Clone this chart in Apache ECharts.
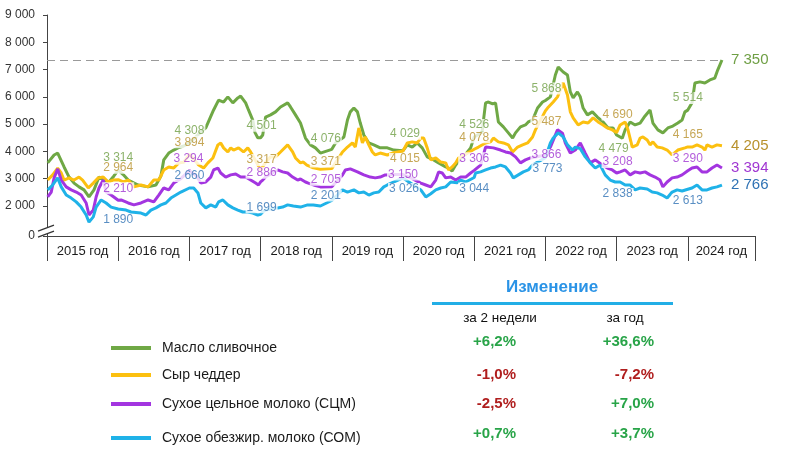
<!DOCTYPE html>
<html>
<head>
<meta charset="utf-8">
<style>
html,body{margin:0;padding:0;background:#fff;}
#chart{width:800px;height:450px;}
</style>
<script src="https://cdn.jsdelivr.net/npm/echarts@6/dist/echarts.min.js"></script>
</head>
<body>
<div id="chart"></div>
<script>
// ---------------- DATA ----------------
const seriesNames = ['Масло сливочное', 'Сыр чеддер', 'Сухое цельное молоко (СЦМ)', 'Сухое обезжир. молоко (СОМ)'];

const butter = [[2015.01,3580],[2015.10,3870],[2015.15,3940],[2015.24,3430],[2015.31,3060],[2015.38,2840],[2015.45,2700],[2015.52,2590],[2015.59,2330],[2015.66,2590],[2015.73,3060],[2015.80,2950],[2015.87,2880],[2015.94,3100],[2016.00,3314],[2016.07,3150],[2016.14,2950],[2016.28,2770],[2016.42,2700],[2016.53,2770],[2016.60,3100],[2016.64,3690],[2016.71,3940],[2016.78,4050],[2016.84,4130],[2016.92,4200],[2017.00,4308],[2017.16,4710],[2017.23,4860],[2017.34,5520],[2017.41,5880],[2017.48,5810],[2017.54,6000],[2017.61,5780],[2017.68,5960],[2017.72,6030],[2017.79,5780],[2017.83,5520],[2017.89,5150],[2017.92,4700],[2017.96,4500],[2018.00,4501],[2018.03,4600],[2018.07,5260],[2018.14,5340],[2018.21,5450],[2018.28,5630],[2018.38,5780],[2018.42,5630],[2018.49,5340],[2018.56,5040],[2018.63,4490],[2018.70,4240],[2018.77,4130],[2018.84,3940],[2019.00,4076],[2019.05,4300],[2019.17,4530],[2019.22,5150],[2019.26,5450],[2019.31,5590],[2019.36,5450],[2019.40,5040],[2019.45,4600],[2019.52,4310],[2019.59,4240],[2019.68,4130],[2019.78,4130],[2019.87,4050],[2020.00,4029],[2020.06,4240],[2020.13,4160],[2020.20,4310],[2020.27,4130],[2020.34,3800],[2020.43,3690],[2020.50,3580],[2020.60,3430],[2020.64,3390],[2020.69,3280],[2020.74,3500],[2020.81,3760],[2020.88,3900],[2020.95,4130],[2021.00,4526],[2021.11,4700],[2021.16,5780],[2021.20,5810],[2021.26,5740],[2021.30,5780],[2021.34,5080],[2021.41,4900],[2021.48,4680],[2021.54,4490],[2021.58,4680],[2021.65,4900],[2021.72,4970],[2021.76,5080],[2021.82,5150],[2021.89,5590],[2021.96,5810],[2022.00,5868],[2022.07,6000],[2022.14,6800],[2022.18,7090],[2022.25,6910],[2022.31,6800],[2022.35,6180],[2022.39,5960],[2022.45,6180],[2022.49,6000],[2022.53,5590],[2022.59,5340],[2022.66,5450],[2022.73,5260],[2022.81,5080],[2022.88,4860],[2022.95,4860],[2023.00,4600],[2023.08,4480],[2023.12,4790],[2023.19,5080],[2023.26,4970],[2023.33,5040],[2023.40,5300],[2023.47,5520],[2023.51,5040],[2023.58,4790],[2023.65,4680],[2023.72,4860],[2023.79,4930],[2023.86,5040],[2023.92,5150],[2023.96,5450],[2024.00,5514],[2024.06,5780],[2024.10,6510],[2024.17,6550],[2024.24,6510],[2024.31,6620],[2024.38,6690],[2024.42,6980],[2024.48,7350]];

const cheddar = [[2015.01,2950],[2015.08,3140],[2015.15,3390],[2015.20,3210],[2015.24,2950],[2015.31,3030],[2015.38,2950],[2015.45,3060],[2015.50,2950],[2015.58,2660],[2015.65,2840],[2015.72,3030],[2015.79,3060],[2015.86,2880],[2015.93,2950],[2016.00,2964],[2016.07,2880],[2016.14,2950],[2016.22,2700],[2016.32,2770],[2016.42,2700],[2016.50,2950],[2016.57,2950],[2016.64,3320],[2016.71,3430],[2016.78,3390],[2016.85,3580],[2016.92,3600],[2017.00,3894],[2017.13,3500],[2017.20,3390],[2017.26,3580],[2017.33,3760],[2017.40,4240],[2017.44,4310],[2017.48,4130],[2017.54,3980],[2017.58,4130],[2017.62,4050],[2017.69,4130],[2017.76,3980],[2017.82,4130],[2017.86,3980],[2017.90,3800],[2018.00,3317],[2018.07,3600],[2018.14,3800],[2018.21,3800],[2018.28,3980],[2018.38,4240],[2018.45,3980],[2018.49,3760],[2018.56,3580],[2018.60,3610],[2018.65,3500],[2018.74,3400],[2018.84,3350],[2019.00,3371],[2019.15,3980],[2019.22,4160],[2019.29,4310],[2019.33,4160],[2019.38,4860],[2019.43,4310],[2019.47,4530],[2019.52,4240],[2019.57,3980],[2019.61,3870],[2019.68,3940],[2019.78,3870],[2019.87,3950],[2020.00,4015],[2020.06,4310],[2020.13,4350],[2020.20,4310],[2020.25,4490],[2020.29,4490],[2020.34,4130],[2020.39,3690],[2020.46,3760],[2020.53,3610],[2020.60,3580],[2020.64,3320],[2020.69,3430],[2020.74,3580],[2020.78,3760],[2020.88,3900],[2021.00,4078],[2021.06,4160],[2021.16,4310],[2021.23,4350],[2021.27,4490],[2021.34,4350],[2021.41,4310],[2021.48,4240],[2021.54,3980],[2021.61,4160],[2021.68,4240],[2021.75,4310],[2021.82,4530],[2021.86,4790],[2022.00,5487],[2022.03,5590],[2022.11,5810],[2022.17,6000],[2022.25,6510],[2022.31,6070],[2022.35,5450],[2022.39,5230],[2022.46,4970],[2022.53,5080],[2022.60,5040],[2022.67,5230],[2022.74,5080],[2022.81,4970],[2022.87,4860],[2022.94,4790],[2023.00,4690],[2023.05,4970],[2023.12,5080],[2023.16,4790],[2023.22,4160],[2023.29,4240],[2023.33,4490],[2023.37,4530],[2023.43,4420],[2023.47,4240],[2023.51,4350],[2023.57,4160],[2023.64,4130],[2023.71,4050],[2023.78,3870],[2023.86,4050],[2023.96,4130],[2024.00,4165],[2024.06,4160],[2024.13,4240],[2024.20,4160],[2024.24,4050],[2024.27,4240],[2024.34,4160],[2024.41,4240],[2024.48,4205]];

const wmp = [[2015.01,2330],[2015.06,2510],[2015.10,3030],[2015.15,3360],[2015.20,2950],[2015.27,2700],[2015.34,2590],[2015.41,2510],[2015.48,2400],[2015.55,2110],[2015.59,1670],[2015.65,1850],[2015.69,2330],[2015.73,2660],[2015.79,2950],[2015.83,2510],[2015.90,2400],[2016.00,2210],[2016.04,2220],[2016.14,2110],[2016.22,2040],[2016.32,2110],[2016.42,2220],[2016.50,2150],[2016.57,2400],[2016.64,2660],[2016.71,2590],[2016.78,2840],[2016.88,3000],[2017.00,3294],[2017.10,3100],[2017.16,2840],[2017.23,2880],[2017.30,3060],[2017.34,3320],[2017.40,3390],[2017.44,3210],[2017.51,3060],[2017.58,3140],[2017.65,3170],[2017.72,3060],[2017.79,3060],[2017.86,2950],[2017.93,2840],[2017.97,2770],[2018.00,2886],[2018.03,2950],[2018.07,3060],[2018.24,3320],[2018.31,3250],[2018.38,3210],[2018.45,3060],[2018.52,2950],[2018.56,2990],[2018.63,2880],[2018.67,2840],[2018.77,2750],[2018.84,2700],[2019.00,2705],[2019.15,3140],[2019.19,3320],[2019.26,3360],[2019.36,3250],[2019.45,3140],[2019.54,3060],[2019.61,3030],[2019.68,3060],[2019.75,3140],[2019.87,3150],[2020.00,3150],[2020.13,3000],[2020.25,2840],[2020.32,2770],[2020.39,2700],[2020.46,2950],[2020.50,3250],[2020.55,3210],[2020.60,3030],[2020.67,3060],[2020.74,2950],[2020.81,3060],[2020.88,3060],[2020.95,3210],[2021.00,3306],[2021.09,3500],[2021.16,4160],[2021.27,4130],[2021.37,4050],[2021.44,3980],[2021.51,3940],[2021.58,3800],[2021.65,3580],[2021.72,3690],[2021.79,3760],[2022.00,3866],[2022.07,4160],[2022.17,4790],[2022.24,4670],[2022.28,4310],[2022.35,3940],[2022.42,4050],[2022.49,4310],[2022.56,3940],[2022.63,3580],[2022.70,3690],[2022.80,3500],[2022.87,3390],[2022.94,3320],[2023.00,3208],[2023.05,3250],[2023.12,3320],[2023.19,3140],[2023.26,3250],[2023.33,3210],[2023.40,3250],[2023.47,3140],[2023.54,3060],[2023.61,2950],[2023.65,2700],[2023.71,2880],[2023.78,3030],[2023.85,3060],[2023.92,3140],[2024.00,3290],[2024.06,3390],[2024.13,3430],[2024.20,3250],[2024.27,3250],[2024.34,3390],[2024.41,3500],[2024.48,3394]];

const smp = [[2015.01,2590],[2015.08,2770],[2015.15,3030],[2015.20,2700],[2015.27,2400],[2015.34,2290],[2015.41,2150],[2015.48,1960],[2015.55,1670],[2015.59,1410],[2015.65,1600],[2015.69,1960],[2015.76,2220],[2015.83,2110],[2015.90,1960],[2016.00,1890],[2016.11,1850],[2016.18,1780],[2016.32,1740],[2016.39,1670],[2016.46,1850],[2016.53,1930],[2016.60,2040],[2016.67,2110],[2016.74,2290],[2016.81,2400],[2016.88,2510],[2017.00,2660],[2017.06,2660],[2017.12,2480],[2017.16,2110],[2017.23,1930],[2017.30,2040],[2017.37,1960],[2017.41,2150],[2017.47,2220],[2017.54,2040],[2017.61,1930],[2017.68,1850],[2017.75,1780],[2017.82,1780],[2017.89,1740],[2017.96,1670],[2018.00,1699],[2018.03,1780],[2018.07,1850],[2018.24,1930],[2018.31,1960],[2018.38,2040],[2018.46,2000],[2018.56,1960],[2018.66,2040],[2018.74,2040],[2018.84,2000],[2019.00,2201],[2019.15,2590],[2019.22,2510],[2019.31,2590],[2019.38,2480],[2019.45,2510],[2019.52,2400],[2019.59,2480],[2019.66,2510],[2019.73,2700],[2019.78,2770],[2020.00,3026],[2020.25,2590],[2020.32,2330],[2020.39,2450],[2020.46,2590],[2020.53,2660],[2020.60,2700],[2020.67,2880],[2020.76,2850],[2020.81,2950],[2020.88,2880],[2021.00,3044],[2021.02,3210],[2021.09,3250],[2021.16,3320],[2021.23,3390],[2021.30,3430],[2021.37,3500],[2021.44,3430],[2021.51,3210],[2021.55,3030],[2021.62,3140],[2021.69,3250],[2021.76,3320],[2021.82,3500],[2022.00,3773],[2022.07,4310],[2022.11,4490],[2022.18,4680],[2022.25,4530],[2022.31,4240],[2022.38,4050],[2022.42,4160],[2022.49,4100],[2022.56,3800],[2022.63,3580],[2022.70,3390],[2022.77,3500],[2022.84,3140],[2022.91,2950],[2022.98,2880],[2023.00,2838],[2023.05,2880],[2023.12,2770],[2023.19,2770],[2023.26,2590],[2023.33,2660],[2023.43,2620],[2023.50,2510],[2023.57,2480],[2023.64,2400],[2023.71,2290],[2023.78,2510],[2023.85,2590],[2023.92,2550],[2024.00,2613],[2024.06,2660],[2024.13,2770],[2024.20,2590],[2024.27,2590],[2024.34,2660],[2024.41,2700],[2024.48,2766]];

// annotated values at the start of each year
const labelYears = [2016, 2017, 2018, 2019, 2020, 2021, 2022, 2023, 2024];
const butterLabels  = [3314, 4308, 4501, 4076, 4029, 4526, 5868, 4479, 5514];
const cheddarLabels = [2964, 3894, 3317, 3371, 4015, 4078, 5487, 4690, 4165];
const wmpLabels     = [2210, 3294, 2886, 2705, 3150, 3306, 3866, 3208, 3290];
const smpLabels     = [1890, 2660, 1699, 2201, 3026, 3044, 3773, 2838, 2613];

const refLevel = 7350;

// y-axis ticks and x-axis years
const yTickValues = [900, 2000, 3000, 4000, 5000, 6000, 7000, 8000, 9000];
const yearTicks = [2015, 2016, 2017, 2018, 2019, 2020, 2021, 2022, 2023, 2024];

// change table
const changeHeader = 'Изменение';
const changeCols = ['за 2 недели', 'за год'];
const change2w = ['+6,2%', '-1,0%', '-2,5%', '+0,7%'];
const changeYear = ['+36,6%', '-7,2%', '+7,0%', '+3,7%'];

// ---------------- STYLE ----------------
const FONT = '"Liberation Sans", Arial, sans-serif';
const lineColors = ['#6fa845', '#fcc010', '#a335e0', '#1fb2e8'];
const labelColors = ['#6f9f45', '#b8912c', '#a036d2', '#2f72b4'];
const labelOffsets = [
  [[0,-12],[0,-12],[1,-12],[-6,-11],[2,-17],[0,-12],[1,-12],[-3,10],[0,-12]],
  [[0,-12],[0,-12],[1,-10],[-6,-7],[2,8],[0,-12],[1,11],[1,-18],[0,-12]],
  [[0,-12],[-1,-12],[1,-9],[-6,-7],[0,0],[0,-12],[1,0],[1,-11],[0,-12]],
  [[0,11],[0,-12],[1,-7],[-6,-5],[1,11],[0,11],[2,11],[1,11],[0,11]]
];
const xMax = 2024.944;

function fmt(v) { return String(v).replace(/\B(?=(\d{3})+(?!\d))/g, ' '); }

const lineData = [butter, cheddar, wmp, smp];
const labelData = [butterLabels, cheddarLabels, wmpLabels, smpLabels];

const chart = echarts.init(document.getElementById('chart'), null, {renderer: 'canvas'});

const series = [];
lineData.forEach((d, i) => {
  const s = {
    name: seriesNames[i],
    type: 'line',
    data: d,
    showSymbol: false,
    symbol: 'none',
    z: 2,
    lineStyle: {color: lineColors[i], width: 3},
    itemStyle: {color: lineColors[i]},
    endLabel: {
      show: true,
      formatter: p => fmt(p.value[1]),
      color: labelColors[i],
      fontSize: 15,
      fontFamily: FONT,
      distance: 9
    },
    emphasis: {disabled: true}
  };
  if (i === 0) {
    s.markLine = {
      silent: true,
      symbol: 'none',
      label: {show: false},
      lineStyle: {color: '#9a9a9a', type: [8, 5], width: 1},
      data: [[{coord: [2015, refLevel]}, {coord: [butter[butter.length - 1][0], refLevel]}]]
    };
  }
  series.push(s);
});
// year-start annotations (white boxes cut the lines as in the original)
labelData.forEach((vals, i) => {
  series.push({
    type: 'scatter',
    z: 10,
    symbol: 'circle',
    symbolSize: 1,
    itemStyle: {color: 'rgba(0,0,0,0)'},
    silent: true,
    emphasis: {disabled: true},
    data: vals.map((v, k) => [labelYears[k], v]),
    labelLayout: p => ({
      dx: labelOffsets[i][p.dataIndex][0],
      dy: labelOffsets[i][p.dataIndex][1],
      hideOverlap: false
    }),
    label: {
      show: true,
      position: 'inside',
      formatter: p => fmt(p.value[1]),
      color: labelColors[i],
      fontSize: 12,
      fontFamily: FONT,
      backgroundColor: '#fff',
      padding: [0, 1, 0, 1]
    }
  });
});

const legendTops = [333, 360, 389, 423];
const legends = seriesNames.map((n, i) => ({
  data: [n],
  left: 106,
  top: legendTops[i],
  icon: 'rect',
  itemWidth: 40,
  itemHeight: 4,
  selectedMode: false,
  textStyle: {fontSize: 14, fontFamily: FONT, color: '#1a1a1a', padding: [0, 0, 2, 6], lineHeight: 18}
}));

const rowY = [342, 375, 404, 434];
const graphics = [
  {type: 'text', x: 552, y: 287, style: {text: changeHeader, font: 'bold 17px ' + FONT, fill: '#2a93e6', textAlign: 'center', textVerticalAlign: 'middle'}},
  {type: 'rect', shape: {x: 432, y: 302, width: 241, height: 3}, style: {fill: '#22aee6'}},
  {type: 'text', x: 500, y: 318, style: {text: changeCols[0], font: '13.5px ' + FONT, fill: '#111', textAlign: 'center', textVerticalAlign: 'middle'}},
  {type: 'text', x: 625, y: 318, style: {text: changeCols[1], font: '13.5px ' + FONT, fill: '#111', textAlign: 'center', textVerticalAlign: 'middle'}}
];
change2w.forEach((t, i) => {
  graphics.push({type: 'text', x: 516, y: rowY[i], style: {text: t, font: 'bold 15px ' + FONT, fill: t[0] === '-' ? '#b01e1e' : '#28a448', textAlign: 'right', textVerticalAlign: 'middle'}});
});
changeYear.forEach((t, i) => {
  graphics.push({type: 'text', x: 654, y: rowY[i], style: {text: t, font: 'bold 15px ' + FONT, fill: t[0] === '-' ? '#b01e1e' : '#28a448', textAlign: 'right', textVerticalAlign: 'middle'}});
});

chart.setOption({
  animation: false,
  backgroundColor: '#fff',
  grid: {left: 47, right: 45, top: 15, bottom: 214, containLabel: false},
  xAxis: {
    type: 'value',
    min: 2015,
    max: xMax,
    axisLine: {show: true, lineStyle: {color: '#444', width: 1}},
    axisTick: {show: true, length: 25, lineStyle: {color: '#444'}, customValues: yearTicks.concat([xMax])},
    axisLabel: {
      customValues: yearTicks.map(y => y === 2024 ? (2024 + xMax) / 2 - 0.0001 : y + 0.5),
      formatter: v => Math.floor(v) + ' год',
      fontSize: 13, fontFamily: FONT, color: '#1a1a1a', margin: 9
    },
    splitLine: {show: false}
  },
  yAxis: {
    type: 'value',
    min: 900,
    max: 9000,
    axisLine: {show: true, lineStyle: {color: '#444', width: 1}},
    axisTick: {show: true, length: 4, lineStyle: {color: '#444'}, customValues: yTickValues},
    axisLabel: {
      customValues: yTickValues,
      formatter: v => v === 900 ? '0' : fmt(v),
      fontSize: 12, fontFamily: FONT, color: '#333', margin: 12
    },
    splitLine: {show: false}
  },
  legend: legends,
  series: series,
  graphic: graphics
});

// axis break symbol drawn at the bottom of the y axis
const bx = chart.convertToPixel({xAxisIndex: 0}, 2015);
const by = chart.convertToPixel({yAxisIndex: 0}, 1150);
chart.setOption({
  graphic: graphics.concat([
    {type: 'polygon', shape: {points: [[bx - 8, by + 2], [bx + 7, by - 4], [bx + 7, by + 2], [bx - 8, by + 8]]}, style: {fill: '#fff'}, z: 50},
    {type: 'line', shape: {x1: bx - 9, y1: by + 2, x2: bx + 7, y2: by - 4}, style: {stroke: '#333', lineWidth: 1.2}, z: 51},
    {type: 'line', shape: {x1: bx - 9, y1: by + 8, x2: bx + 7, y2: by + 2}, style: {stroke: '#333', lineWidth: 1.2}, z: 51}
  ])
});
</script>
</body>
</html>
